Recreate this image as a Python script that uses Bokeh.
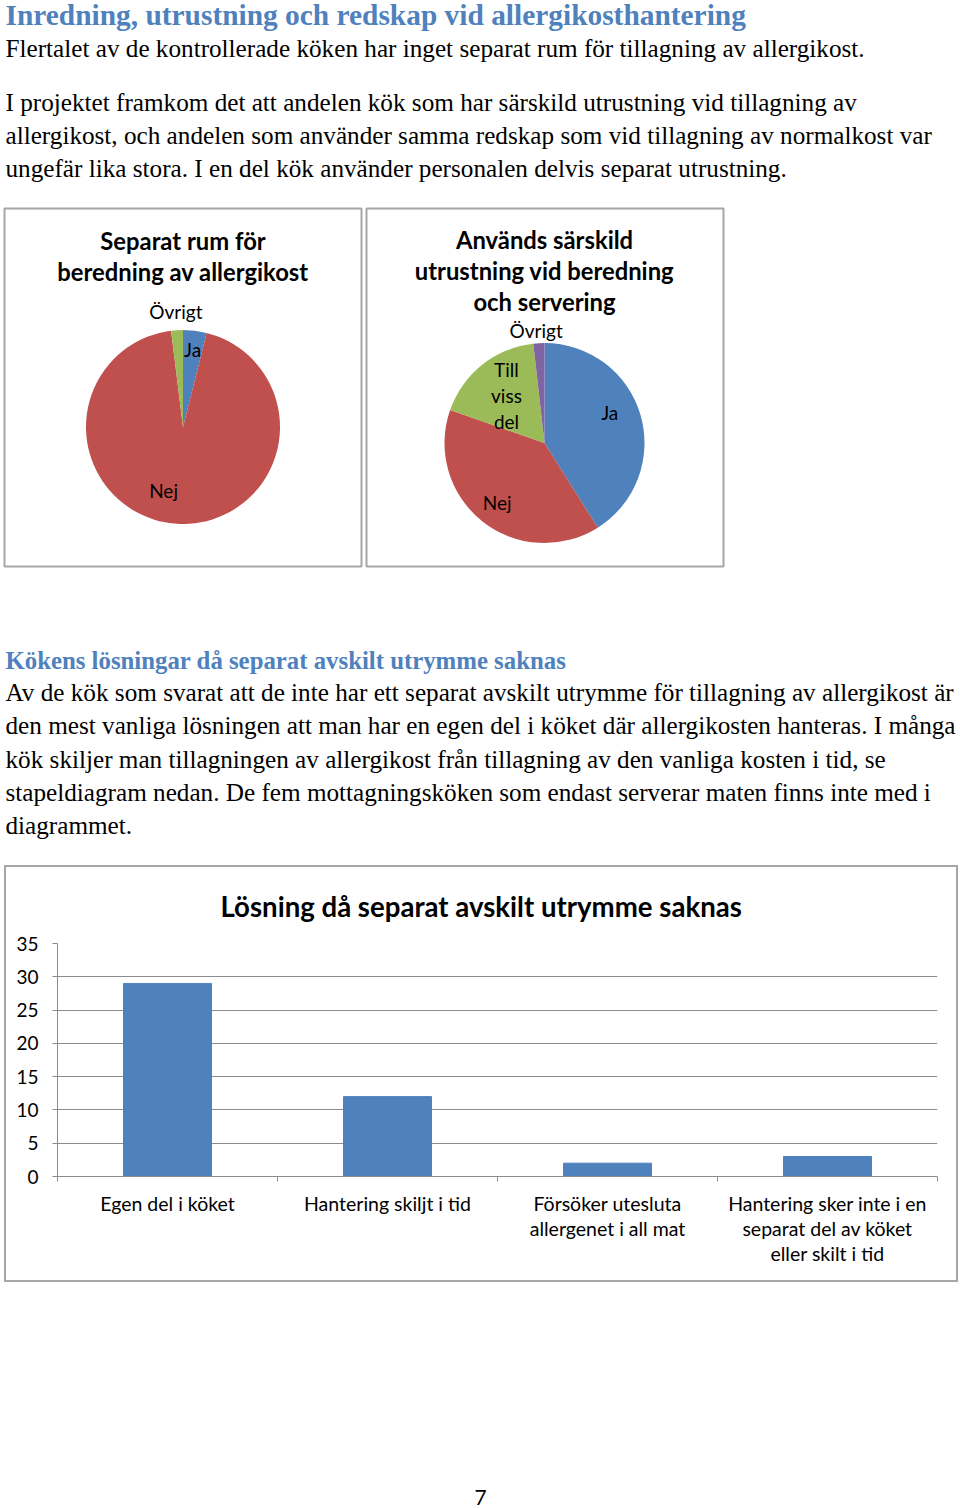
import numpy as np
from bokeh.plotting import figure
from bokeh.models import (Range1d, FixedTicker, LinearAxis, ColumnDataSource,
                          CustomJSTickFormatter, Spacer)
from bokeh.layouts import column, row
from bokeh.embed import file_html
from bokeh.resources import INLINE
from bokeh.core.properties import value

# ---------------- data ----------------
heading1 = "Inredning, utrustning och redskap vid allergikosthantering"
para1 = ["Flertalet av de kontrollerade köken har inget separat rum för tillagning av allergikost."]
para2 = ["I projektet framkom det att andelen kök som har särskild utrustning vid tillagning av",
         "allergikost, och andelen som använder samma redskap som vid tillagning av normalkost var",
         "ungefär lika stora. I en del kök använder personalen delvis separat utrustning."]
heading2 = "Kökens lösningar då separat avskilt utrymme saknas"
para3 = ["Av de kök som svarat att de inte har ett separat avskilt utrymme för tillagning av allergikost är",
         "den mest vanliga lösningen att man har en egen del i köket där allergikosten hanteras. I många",
         "kök skiljer man tillagningen av allergikost från tillagning av den vanliga kosten i tid, se",
         "stapeldiagram nedan. De fem mottagningsköken som endast serverar maten finns inte med i",
         "diagrammet."]
page_number = "7"

pie1_title = ["Separat rum för", "beredning av allergikost"]
pie1_labels = ["Ja", "Nej", "Övrigt"]
pie1_values = [2, 48, 1]
pie1_colors = ["#4F81BD", "#C0504D", "#9BBB59"]

pie2_title = ["Används särskild", "utrustning vid beredning", "och servering"]
pie2_labels = ["Ja", "Nej", "Till\nviss\ndel", "Övrigt"]
pie2_values = [23, 22, 10, 1]
pie2_colors = ["#4F81BD", "#C0504D", "#9BBB59", "#8064A2"]

bar_title = "Lösning då separat avskilt utrymme saknas"
bar_categories = ["Egen del i köket", "Hantering skiljt i tid",
                  "Försöker utesluta\nallergenet i all mat",
                  "Hantering sker inte i en\nseparat del av köket\neller skilt i tid"]
bar_values = [29, 12, 2, 3]
y_ticks = [0, 5, 10, 15, 20, 25, 30, 35]

# ---------------- styles ----------------
SERIF = value("Liberation Serif")
SANS = value("Lato")
HEAD_COLOR = "#4F81BD"
BOX_COLOR = "#A6A6A6"
GRID_COLOR = "#8C8C8C"
PAGE_W = 960

# ---------------- top canvas (x = page x, y = -page y) ----------------
top = figure(width=PAGE_W, height=865, x_range=Range1d(0, PAGE_W), y_range=Range1d(-865, 0),
             output_backend="svg", toolbar_location=None, min_border=0,
             x_axis_location=None, y_axis_location=None)
top.grid.visible = False
top.outline_line_color = None


def txt(fig, x, y, s, size, font, color="#000000", style="normal", align="left", lh=1.2):
    fig.text(x=[x], y=[-y], text=[s], text_font=font, text_font_size=size,
             text_font_style=style, text_color=color, text_align=align,
             text_baseline="middle", text_line_height=lh)


txt(top, 5, 14, heading1, "29.4px", SERIF, HEAD_COLOR, "bold")
txt(top, 5, 48, para1[0], "25.2px", SERIF)
for i, s in enumerate(para2):
    txt(top, 5, 102 + 33 * i, s, "25.2px", SERIF)
txt(top, 5, 660, heading2, "24.8px", SERIF, HEAD_COLOR, "bold")
for i, s in enumerate(para3):
    txt(top, 5, 692 + 33.3 * i, s, "25.2px", SERIF)

# pie boxes
top.quad(left=[4, 366], right=[361, 723], top=[-208, -208], bottom=[-566, -566],
         fill_color=None, line_color=BOX_COLOR, line_width=2)


def pie(fig, cx, cy, r, title_lines, labels, values, colors, lab_pos, title_y):
    v = np.array(values, dtype=float)
    frac = v / v.sum()
    cum = np.concatenate([[0], np.cumsum(frac)])
    start = np.pi / 2 - cum[1:] * 2 * np.pi
    end = np.pi / 2 - cum[:-1] * 2 * np.pi
    src = ColumnDataSource(dict(start=start, end=end, color=colors))
    fig.wedge(x=cx, y=-cy, radius=r, start_angle="start", end_angle="end",
              fill_color="color", line_color=None, source=src)
    for i, t in enumerate(title_lines):
        txt(fig, cx, title_y + 31 * i, t, "23.8px", SANS, "#000000", "bold", "center")
    mid = (cum[1:] + cum[:-1]) / 2
    for lab, m, (rf, dang) in zip(labels, mid, lab_pos):
        a = m * 2 * np.pi + np.deg2rad(dang)
        lx = cx + rf * r * np.sin(a)
        ly = cy - rf * r * np.cos(a)
        txt(fig, lx, ly, lab, "19px", SANS, "#000000", "normal", "center", 1.12)


pie(top, 182.5, 426.5, 97, pie1_title, pie1_labels, pie1_values, pie1_colors,
    [(0.8, 0), (0.685, 13.5), (1.19, 0)], 240)
pie(top, 544, 442.5, 100, pie2_title, pie2_labels, pie2_values, pie2_colors,
    [(0.72, -9), (0.76, 0), (0.61, 0), (1.13, -1)], 239)

# ---------------- bar chart ----------------
n = len(bar_categories)
bar = figure(width=954, height=417, x_range=Range1d(0, n), y_range=Range1d(0, 35),
             output_backend="svg", toolbar_location=None, x_axis_location=None,
             min_border_left=51, min_border_right=23, min_border_top=75, min_border_bottom=108,
             styles={"border": "2px solid " + BOX_COLOR, "box-sizing": "border-box"})
bar.outline_line_color = None
bar.vbar(x=np.arange(n) + 0.5, top=bar_values, width=0.4, color="#4F81BD")

bar.title.text = bar_title
bar.title.align = "left"
bar.title.offset = 163
bar.title.text_color = "#000000"
bar.title.text_font = "Lato"
bar.title.text_font_size = "27.6px"
bar.title.text_font_style = "bold"
bar.title.standoff = 41

bar.yaxis.ticker = FixedTicker(ticks=y_ticks)
bar.yaxis.axis_line_color = GRID_COLOR
bar.yaxis.major_tick_line_color = GRID_COLOR
bar.yaxis.major_tick_out = 5
bar.yaxis.major_tick_in = 0
bar.yaxis.minor_tick_line_color = None
bar.yaxis.major_label_text_font = "Lato"
bar.yaxis.major_label_text_font_size = "19px"
bar.yaxis.major_label_text_color = "#000000"
bar.yaxis.major_label_standoff = 14
bar.ygrid.ticker = FixedTicker(ticks=y_ticks)
bar.ygrid.grid_line_color = GRID_COLOR
bar.xgrid.grid_line_color = None

tick_axis = LinearAxis(ticker=FixedTicker(ticks=list(range(n + 1))),
                       formatter=CustomJSTickFormatter(code="return '';"),
                       axis_line_color=GRID_COLOR, major_tick_line_color=GRID_COLOR,
                       major_tick_out=5, major_tick_in=0, minor_tick_line_color=None,
                       major_label_text_font_size="1px", major_label_standoff=0)
bar.add_layout(tick_axis, "below")
cat_axis = LinearAxis(ticker=FixedTicker(ticks=list(np.arange(n) + 0.5)),
                      formatter=CustomJSTickFormatter(args=dict(labels=bar_categories),
                                                      code="return labels[Math.floor(tick)];"),
                      axis_line_color=None, major_tick_line_color=None,
                      minor_tick_line_color=None, major_label_text_font="Lato",
                      major_label_text_font_size="19.5px", major_label_text_color="#000000",
                      major_label_text_line_height=1.09, major_label_standoff=4)
bar.add_layout(cat_axis, "below")

# ---------------- bottom canvas ----------------
bottom = figure(width=PAGE_W, height=226, x_range=Range1d(0, PAGE_W), y_range=Range1d(-1508, -1282),
                output_backend="svg", toolbar_location=None, min_border=0,
                x_axis_location=None, y_axis_location=None)
bottom.grid.visible = False
bottom.outline_line_color = None
txt(bottom, 480, 1497, page_number, "21px", SANS, "#000000", "normal", "center")

layout = column(top, row(Spacer(width=4, height=417), bar, spacing=0), bottom, spacing=0)
open("out.html", "w").write(file_html(layout, INLINE))
